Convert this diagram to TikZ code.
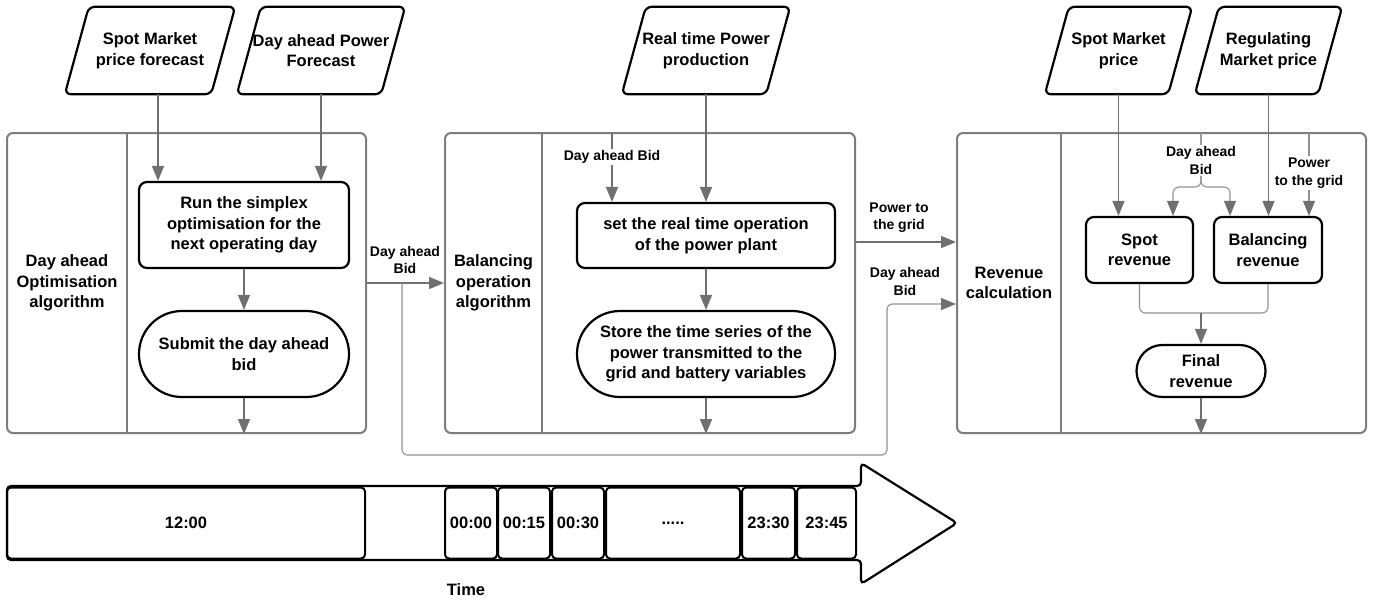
\documentclass[tikz,border=0pt]{standalone}
\usepackage{fontspec}
\setmainfont{Liberation Sans}
\usetikzlibrary{arrows.meta,calc}
\definecolor{linegray}{RGB}{112,112,112}
\definecolor{boxgray}{RGB}{125,125,125}
\definecolor{thingray}{RGB}{145,145,145}
\tikzset{
 txt/.style={font=\bfseries\fontsize{16.5}{20.5}\selectfont, align=center, inner sep=0pt},
 lbl/.style={font=\bfseries\fontsize{14}{17.5}\selectfont, align=center, inner sep=1.5pt},
 container/.style={draw=boxgray, line width=2pt, rounded corners=6pt, minimum height=300pt},
 divider/.style={draw=boxgray, line width=2pt},
 proc/.style={txt, draw=black, line width=2.2pt, rounded corners=8pt},
 term/.style={txt, draw=black, line width=2.2pt, rounded corners=#1},
 para/.style={txt, minimum height=87pt},
 paraline/.style={draw=black, line width=2.2pt, rounded corners=6pt},
 arr/.style={draw=linegray, line width=1.6pt, -{Triangle[length=15pt,width=12pt]}},
 thinarr/.style={draw=thingray, line width=1.1pt, -{Triangle[length=15pt,width=12pt,color=linegray]}},
 thinline/.style={draw=thingray, line width=1.1pt},
 slot/.style={txt, draw=black, line width=2pt, rounded corners=4pt, minimum height=71pt},
}
\begin{document}
\begin{tikzpicture}[x=1pt,y=-1pt]
\useasboundingbox (0,0) rectangle (1375,603);

% containers
\node[container, minimum width=359pt] (c1) at (186.5,283) {};
\node[container, minimum width=410pt] (c2) at (650,283) {};
\node[container, minimum width=409pt] (c3) at (1161.5,283) {};
\draw[divider] (c1.north -| 127,0) -- (c1.south -| 127,0);
\draw[divider] (c2.north -| 542,0) -- (c2.south -| 542,0);
\draw[divider] (c3.north -| 1061,0) -- (c3.south -| 1061,0);

\node[txt] (l1) at (67,283) {Day ahead\\Optimisation\\algorithm};
\node[txt] (l2) at (493.5,283) {Balancing\\operation\\algorithm};
\node[txt] (l3) at (1009,283) {Revenue\\calculation};

% inputs
\node[para, minimum width=146pt] (p1) at (150,50.5) {Spot Market\\price forecast};
\node[para, minimum width=144pt] (p2) at (321,50.5) {Day ahead Power\\Forecast};
\node[para, minimum width=144pt] (p3) at (706,50.5) {Real time Power\\production};
\node[para, minimum width=123pt] (p4) at (1118.5,50.5) {Spot Market\\price};
\node[para, minimum width=123pt] (p5) at (1268.5,50.5) {Regulating\\Market price};
\foreach \p in {p1,p2,p3,p4,p5} {
  \draw[paraline] ($(\p.north west)+(12,0)$) -- ($(\p.north east)+(12,0)$) -- ($(\p.south east)+(-12,0)$) -- ($(\p.south west)+(-12,0)$) -- cycle;
}

% process nodes
\node[proc, minimum width=210pt, minimum height=86pt] (run) at (244,225) {Run the simplex\\optimisation for the\\next operating day};
\node[term=42.9pt, minimum width=210pt, minimum height=86pt] (sub) at (244,354) {Submit the day ahead\\bid};
\node[proc, minimum width=258pt, minimum height=65pt] (set) at (706,235.5) {set the real time operation\\of the power plant};
\node[term=42.9pt, minimum width=258pt, minimum height=86pt] (store) at (706,354) {Store the time series of the\\power transmitted to the\\grid and battery variables};
\node[proc, minimum width=107pt, minimum height=66pt] (spot) at (1139.5,250) {Spot\\revenue};
\node[proc, minimum width=108pt, minimum height=66pt] (bal) at (1268,250) {Balancing\\revenue};
\node[term=25.9pt, minimum width=129pt, minimum height=52pt] (fin) at (1201,371) {Final\\revenue};

% left block connectors
\draw[arr] ([xshift=8pt]p1.south) -- ([xshift=8pt]p1.south |- run.north);
\draw[arr] (p2.south) -- (p2.south |- run.north);
\draw[arr] (run.south) -- (sub.north);
\draw[arr] (sub.south) -- (sub.south |- c1.south);

\draw[arr] (c1.east) -- (c2.west);
\node[lbl] (lb1) at (405,260) {Day ahead\\Bid};
\coordinate (br1) at (402,283);
\coordinate (br2) at (887,455);
\coordinate (y304) at (0,304);
\draw[thinarr, rounded corners=5pt] (br1) |- (br2) |- (c3.west |- y304);

% middle block
\coordinate (db2) at (612,133);
\draw[arr] (db2) -- (db2 |- set.north);
\node[lbl, fill=white] (lb2) at (612,157) {Day ahead Bid};
\draw[arr] (p3.south) -- (set.north);
\draw[arr] (set.south) -- (store.north);
\draw[arr] (store.south) -- (store.south |- c2.south);
\coordinate (y242) at (0,242);
\draw[arr] (c2.east |- y242) -- (c3.west |- y242);
\node[lbl] (lb3) at (899,217.5) {Power to\\the grid};
\node[lbl] (lb4) at (905,281.5) {Day ahead\\Bid};

% right block
\draw[arr] (p4.south) -- (p4.south |- spot.north);
\draw[arr] (p5.south) -- (p5.south |- bal.north);
\coordinate (db3) at (1201,133);
\coordinate (bk) at (1201,187);
\coordinate (sa) at (1173,0);
\coordinate (ba) at (1230,0);
\draw[thinarr, rounded corners=6pt] (db3) -- (bk) -| (sa |- spot.north);
\draw[thinarr, rounded corners=6pt] (db3) -- (bk) -| (ba |- bal.north);
\node[lbl, fill=white] (lb5) at (1201,160.5) {Day ahead\\Bid};
\coordinate (pg) at (1309,133);
\draw[thinarr] (pg) -- (pg |- bal.north);
\node[lbl, fill=white] (lb6) at (1309,173) {Power\\to the grid};
\coordinate (mg) at (1201,313);
\draw[thinline, rounded corners=6pt] (spot.south) |- (mg);
\draw[thinline, rounded corners=6pt] (bal.south) |- (mg);
\draw[arr] (mg) -- (fin.north);
\draw[arr] (fin.south) -- (fin.south |- c3.south);

% timeline
\draw[black, line width=2.2pt, rounded corners=4pt] (7,486) -- (861,486) -- (861,463) -- (957,523) -- (861,584) -- (861,560) -- (7,560) -- cycle;
\node[slot, minimum width=358pt] (t0) at (186,523) {12:00};
\node[slot, minimum width=52pt] (t1) at (471,523) {00:00};
\node[slot, minimum width=52pt] (t2) at (524,523) {00:15};
\node[slot, minimum width=52pt] (t3) at (578,523) {00:30};
\node[slot, minimum width=134pt] (t4) at (673,523) {.....};
\node[slot, minimum width=53pt] (t5) at (768.5,523) {23:30};
\node[slot, minimum width=59pt] (t6) at (826.5,523) {23:45};
\node[txt] (time) at (466,590) {Time};
\end{tikzpicture}
\end{document}
